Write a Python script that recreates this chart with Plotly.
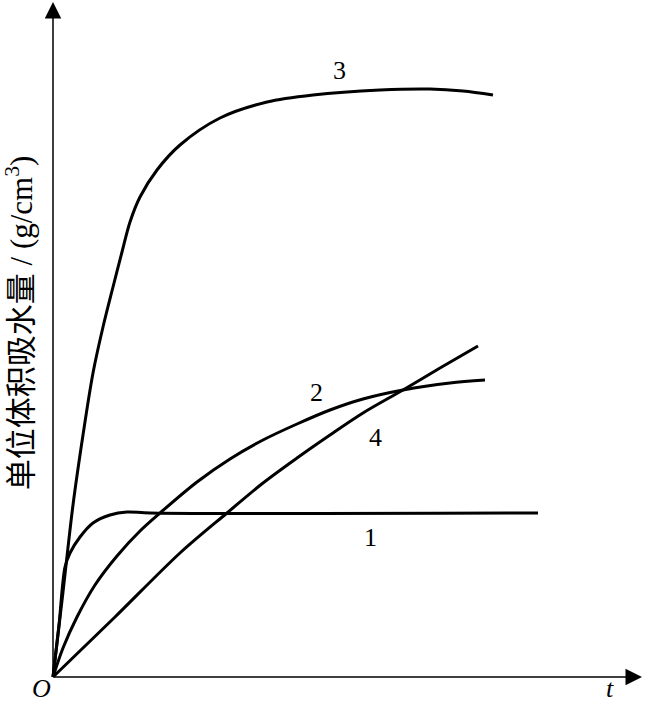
import plotly.graph_objects as go

# curve data (t, water absorption per unit volume), arbitrary units
t1 = [0, 0.6, 1.2, 1.7, 2.7, 4.0, 5.7, 7.4, 9.7, 48.5]
w1 = [0, 5.2, 11.0, 12.4, 14.0, 15.4, 16.2, 16.5, 16.4, 16.4]

t2 = [0, 1.0, 2.4, 4.2, 6.4, 8.7, 10.7, 14.4, 17.7, 21.0, 24.4, 27.7, 31.0, 35.0, 39.7, 43.2]
w2 = [0, 2.9, 6.0, 9.2, 12.1, 14.6, 16.4, 19.5, 21.8, 23.7, 25.3, 26.7, 27.8, 28.7, 29.4, 29.7]

t3 = [0, 1.0, 2.0, 3.0, 4.0, 5.0, 6.0, 6.9, 7.7, 8.7, 10.4, 12.7, 16.7, 21.4, 26.0, 32.7, 37.7, 41.0, 44.0]
w3 = [0, 8.5, 17.2, 24.2, 30.4, 35.0, 39.0, 42.5, 45.5, 48.0, 50.7, 53.2, 55.9, 57.5, 58.2, 58.7, 58.8, 58.6, 58.2]

t4 = [0, 6.2, 12.7, 17.4, 21.0, 24.4, 27.7, 31.0, 35.0, 38.7, 42.5]
w4 = [0, 6.0, 12.4, 16.4, 19.4, 21.9, 24.2, 26.4, 28.7, 30.9, 33.1]

curve_labels = ["1", "2", "3", "4"]
label_pos_t = [31.7, 26.3, 28.6, 32.2]
label_pos_w = [14.0, 28.5, 60.7, 24.0]

y_title = "单位体积吸水量 / (g/cm<sup>3</sup>)"
x_axis_label = "t"
origin_label = "O"

fig = go.Figure()
for t, w in [(t1, w1), (t2, w2), (t3, w3), (t4, w4)]:
    fig.add_trace(go.Scatter(x=t, y=w, mode="lines",
                             line=dict(color="black", width=3, shape="spline", smoothing=0.9),
                             showlegend=False, hoverinfo="skip"))

serif = "Liberation Serif, Times New Roman, serif"
for lab, tx, wy in zip(curve_labels, label_pos_t, label_pos_w):
    fig.add_annotation(x=tx, y=wy, text=lab, showarrow=False,
                       font=dict(family=serif, size=26, color="black"))

# axes arrows
fig.add_annotation(x=58.9, y=0, ax=0, ay=0, axref="x", ayref="y", xref="x", yref="y",
                   text="", showarrow=True, arrowhead=2, arrowsize=2.2, arrowwidth=1.5,
                   arrowcolor="black")
fig.add_annotation(x=0, y=67.5, ax=0, ay=0, axref="x", ayref="y", xref="x", yref="y",
                   text="", showarrow=True, arrowhead=2, arrowsize=2.2, arrowwidth=1.5,
                   arrowcolor="black")

fig.add_annotation(xref="paper", yref="paper", x=-0.0017, y=-0.0029,
                   xanchor="center", yanchor="middle", borderpad=0,
                   text="<i>" + origin_label + "</i>", showarrow=False,
                   font=dict(family=serif, size=26, color="black"))
fig.add_annotation(xref="paper", yref="paper", x=0.937, y=-0.0029,
                   xanchor="center", yanchor="middle", borderpad=0,
                   text="<i>" + x_axis_label + "</i>", showarrow=False,
                   font=dict(family=serif, size=26, color="black"))
fig.add_annotation(xref="paper", yref="paper", x=-0.0397, y=0.531,
                   xanchor="center", yanchor="middle", borderpad=0,
                   text=y_title, textangle=-90, showarrow=False,
                   font=dict(family="Liberation Serif, Noto Sans CJK SC", size=31, color="black"))

fig.update_layout(width=648, height=705, margin=dict(l=43, r=0, t=0, b=18),
                  plot_bgcolor="white", paper_bgcolor="white")
fig.update_xaxes(range=[-1.0, 59.5], visible=False)
fig.update_yaxes(range=[-1.0, 67.7], visible=False)

fig.write_html("out.html", config={"displayModeBar": False},
               post_script="document.body.style.margin='0';")
